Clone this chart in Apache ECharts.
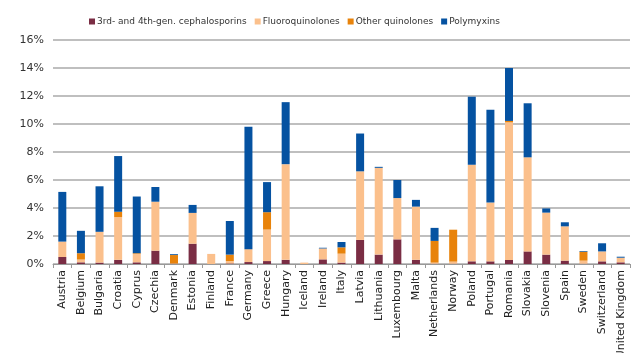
<!DOCTYPE html>
<html><head><meta charset="utf-8">
<script src="https://cdn.jsdelivr.net/npm/echarts@6/dist/echarts.min.js"></script>
<style>html,body{margin:0;padding:0;background:#fff}#c{width:636px;height:353px}</style>
</head><body><div id="c"></div>
<script>
const categories = ["Austria","Belgium","Bulgaria","Croatia","Cyprus","Czechia","Denmark","Estonia","Finland","France","Germany","Greece","Hungary","Iceland","Ireland","Italy","Latvia","Lithuania","Luxembourg","Malta","Netherlands","Norway","Poland","Portugal","Romania","Slovakia","Slovenia","Spain","Sweden","Switzerland","United Kingdom"];
const cephalosporins = [0.5,0.12,0.1,0.3,0.12,0.95,0.02,1.45,0,0.04,0.14,0.21,0.3,0,0.33,0.1,1.72,0.67,1.76,0.3,0.02,0.02,0.19,0.19,0.29,0.9,0.67,0.24,0.02,0.19,0.12];
const fluoroquinolones = [1.1,0.2,2.2,3.05,0.6,3.5,0.02,2.2,0.72,0.17,0.92,2.25,6.83,0.1,0.78,0.64,4.9,6.2,2.95,3.8,0.08,0.15,6.9,4.2,9.83,6.72,3.0,2.45,0.22,0.71,0.33];
const otherQuinolones = [0,0.45,0,0.38,0.05,0,0.6,0,0,0.46,0,1.24,0,0,0,0.45,0,0,0,0,1.55,2.28,0,0,0.1,0,0,0,0.64,0,0];
const polymyxins = [3.55,1.6,3.25,3.98,4.05,1.05,0.06,0.57,0,2.4,8.75,2.15,4.43,0,0.05,0.38,2.7,0.07,1.29,0.48,0.93,0,4.86,6.63,3.78,3.86,0.3,0.29,0.05,0.58,0.07];
const yTicks = [0,2,4,6,8,10,12,14,16];

const font = 'DejaVu Sans';
const mk = (name, data, color) => ({name, type:'bar', stack:'a', data, barWidth:8, itemStyle:{color}});
const chart = echarts.init(document.getElementById('c'));
chart.setOption({
  animation:false,
  textStyle:{fontFamily:font},
  legend:{top:12,left:84,itemWidth:6,itemHeight:6,itemGap:8,icon:'rect',
    textStyle:{fontFamily:font,fontSize:9,color:'#333',padding:[0,0,0,-3]}},
  grid:{left:53,right:6,top:40,bottom:89,containLabel:false,outerBoundsMode:'none'},
  xAxis:{type:'category',data:categories,
    axisLine:{lineStyle:{color:'#999'}},
    axisTick:{show:true,alignWithLabel:false,length:4,lineStyle:{color:'#999'}},
    axisLabel:{rotate:90,interval:0,fontFamily:font,fontSize:11,color:'#222',margin:6}},
  yAxis:{type:'value',min:yTicks[0],max:yTicks[yTicks.length-1],interval:2,
    axisLine:{show:false},axisTick:{show:false},
    splitLine:{lineStyle:{color:'#aaa',width:1.5}},
    axisLabel:{formatter:v=>v+'%',fontFamily:font,fontSize:11,color:'#333',margin:9}},
  series:[
    mk('3rd- and 4th-gen. cephalosporins',cephalosporins,'#7A2D44'),
    mk('Fluoroquinolones',fluoroquinolones,'#FBC08C'),
    mk('Other quinolones',otherQuinolones,'#E8830B'),
    mk('Polymyxins',polymyxins,'#0552A1')
  ]
});
</script></body></html>
